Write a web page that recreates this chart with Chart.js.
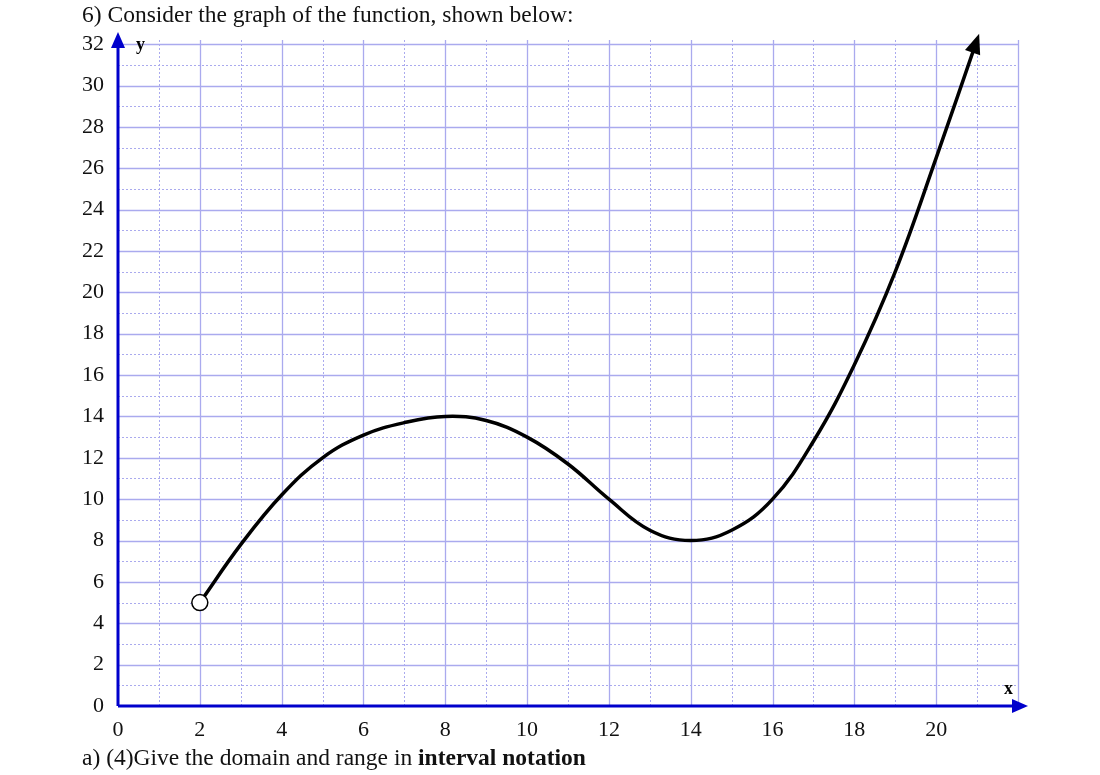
<!DOCTYPE html>
<html><head><meta charset="utf-8">
<script src="https://cdn.jsdelivr.net/npm/chart.js@4"></script>
<style>
body{margin:0;background:#fff;width:1100px;height:775px;overflow:hidden;position:relative;font-family:"Liberation Serif",serif}
#c{position:absolute;left:0;top:0}
.t{position:absolute;font-size:23.5px;color:#111;white-space:nowrap}
</style></head><body>
<canvas id="c" width="1100" height="775"></canvas>
<div class="t" style="left:82px;top:1px">6) Consider the graph of the function, shown below:</div>
<div class="t" style="left:82px;top:744px">a) (4)Give the domain and range in <b>interval notation</b></div>
<script>
const xs = [2,3,4,5,6,7,8,9,10,11,12,13,14,15,16,17,18,19,20,21.05];
const ys = [5,7.8,10.2,12,13.1,13.7,14,13.8,13,11.7,10,8.5,8,8.5,10,12.8,16.5,21,26.5,32.5];
const openPoint = [{x:2,y:5}];
const xTickLabels = [0,2,4,6,8,10,12,14,16,18,20];
const yTickLabels = [0,2,4,6,8,10,12,14,16,18,20,22,24,26,28,30,32];

const gridPlugin = {
  id:'grid',
  beforeDatasetsDraw(ch){
    const {ctx, chartArea:a, scales:{x,y}} = ch;
    ctx.save();
    ctx.strokeStyle='#aaaaee';
    for(let i=1;i<=22;i++){
      const px=Math.round(x.getPixelForValue(i))+0.5;
      ctx.lineWidth=i%2?1:1.3; ctx.setLineDash(i%2?[2,2]:[]);
      ctx.beginPath();ctx.moveTo(px,a.top);ctx.lineTo(px,a.bottom);ctx.stroke();
    }
    for(let j=1;j<=32;j++){
      const py=Math.round(y.getPixelForValue(j))+0.5;
      ctx.lineWidth=j%2?1:1.3; ctx.setLineDash(j%2?[2,2]:[]);
      ctx.beginPath();ctx.moveTo(a.left,py);ctx.lineTo(a.right,py);ctx.stroke();
    }
    ctx.setLineDash([]);
    ctx.strokeStyle='#0000cc';ctx.fillStyle='#0000cc';ctx.lineWidth=3;
    const x0=x.getPixelForValue(0), y0=y.getPixelForValue(0);
    ctx.beginPath();ctx.moveTo(x0,y0);ctx.lineTo(1018,y0);ctx.stroke();
    ctx.beginPath();ctx.moveTo(1028,y0);ctx.lineTo(1012,y0-7);ctx.lineTo(1012,y0+7);ctx.fill();
    ctx.beginPath();ctx.moveTo(x0,y0);ctx.lineTo(x0,44);ctx.stroke();
    ctx.beginPath();ctx.moveTo(x0,32);ctx.lineTo(x0-7,48);ctx.lineTo(x0+7,48);ctx.fill();
    ctx.fillStyle='#000';ctx.font='bold 18px "Liberation Serif"';
    ctx.fillText('y',136,50);ctx.fillText('x',1004,694);
    ctx.restore();
  },
  afterDatasetsDraw(ch){
    const {ctx, scales:{x,y}} = ch;
    const n=xs.length;
    const px=x.getPixelForValue(xs[n-1]), py=y.getPixelForValue(ys[n-1]);
    const qx=x.getPixelForValue(xs[n-2]), qy=y.getPixelForValue(ys[n-2]);
    const ang=Math.atan2(py-qy,px-qx);
    ctx.save();ctx.translate(px,py);ctx.rotate(ang);ctx.fillStyle='#000';
    ctx.beginPath();ctx.moveTo(0,0);ctx.lineTo(-20,-8);ctx.lineTo(-20,8);ctx.fill();ctx.restore();
  }
};

new Chart(document.getElementById('c'),{
  type:'scatter',
  data:{datasets:[
    {data:xs.map((v,i)=>({x:v,y:ys[i]})),showLine:true,borderColor:'#000',borderWidth:3.5,pointRadius:0,tension:0.4,order:2},
    {data:openPoint,pointRadius:8,pointBackgroundColor:'#fff',pointBorderColor:'#000',pointBorderWidth:1.5,order:1}
  ]},
  options:{responsive:false,animation:false,devicePixelRatio:1,
    layout:{padding:{left:0,right:82,top:40,bottom:0}},
    plugins:{legend:{display:false},tooltip:{enabled:false}},
    scales:{
      x:{type:'linear',min:0,max:22,afterFit(s){s.height=69;},
        afterBuildTicks(s){s.ticks=xTickLabels.map(v=>({value:v}));},
        grid:{display:false},border:{display:false},
        ticks:{color:'#111',padding:3,font:{family:'Liberation Serif',size:22},maxRotation:0}},
      y:{type:'linear',min:0,max:32.2,afterFit(s){s.width=118;},
        afterBuildTicks(s){s.ticks=yTickLabels.map(v=>({value:v}));},
        grid:{display:false},border:{display:false},
        ticks:{color:'#111',padding:6,font:{family:'Liberation Serif',size:22}}}
    }},
  plugins:[gridPlugin]
});
</script></body></html>
